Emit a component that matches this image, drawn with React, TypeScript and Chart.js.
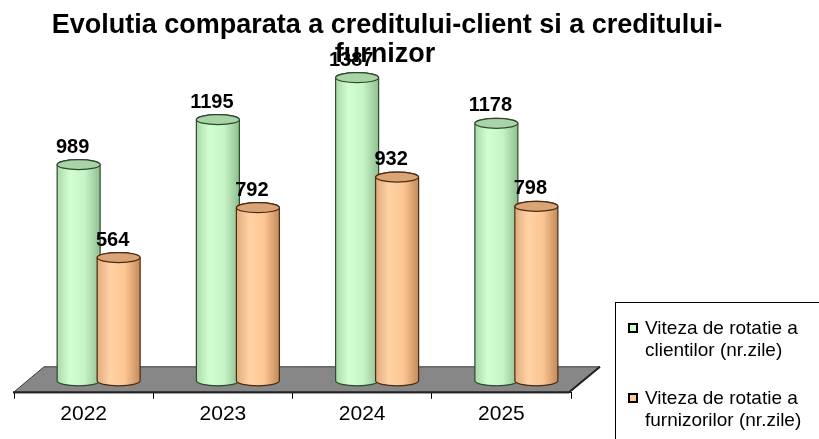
import React, { useEffect, useRef } from "react";
import { Chart, registerables } from "chart.js";

Chart.register(...registerables);

const categories = ["2022", "2023", "2024", "2025"];
const clientDays = [989, 1195, 1387, 1178];
const supplierDays = [564, 792, 932, 798];
const seriesNames = [
  ["Viteza de rotatie a", "clientilor (nr.zile)"],
  ["Viteza de rotatie a", "furnizorilor (nr.zile)"],
];
const titleLines = ["Evolutia comparata a creditului-client si a creditului-", "furnizor"];

const FONT = "'Liberation Sans', Arial, Helvetica, sans-serif";

const styles = [
  {
    body: ["#a9d9a9", "#d2ffd2", "#c6f3c6", "#8fbf8f"],
    top: "#a8d4a8",
    stroke: "#2e4a2e",
    legend: "#ccffcc",
  },
  {
    body: ["#e2ab7c", "#ffd2a4", "#fcc692", "#c48a5a"],
    top: "#d9a577",
    stroke: "#4a2a12",
    legend: "#ffcc99",
  },
];

const DX = 31; // depth offset of floor
const DY = 26;
const SHIFT_X = 15; // half depth: bars stand in the middle of the floor
const RY = 5;

function drawCylinder(ctx: CanvasRenderingContext2D, cx: number, topY: number, botY: number, w: number, st: any) {
  const rx = w / 2;
  const g = ctx.createLinearGradient(cx - rx, 0, cx + rx, 0);
  g.addColorStop(0, st.body[0]);
  g.addColorStop(0.3, st.body[1]);
  g.addColorStop(0.65, st.body[2]);
  g.addColorStop(1, st.body[3]);
  ctx.save();
  ctx.lineWidth = 1.2;
  ctx.strokeStyle = st.stroke;
  ctx.beginPath();
  ctx.moveTo(cx - rx, topY);
  ctx.lineTo(cx - rx, botY);
  ctx.ellipse(cx, botY, rx, RY, 0, Math.PI, 0, true);
  ctx.lineTo(cx + rx, topY);
  ctx.ellipse(cx, topY, rx, RY, 0, 0, Math.PI, true);
  ctx.closePath();
  ctx.fillStyle = g;
  ctx.fill();
  ctx.stroke();
  ctx.beginPath();
  ctx.ellipse(cx, topY, rx, RY, 0, 0, Math.PI * 2);
  ctx.fillStyle = st.top;
  ctx.fill();
  ctx.stroke();
  ctx.restore();
}

const cylinderPlugin = {
  id: "cylinders",
  beforeDatasetsDraw(chart: any) {
    const { ctx, chartArea } = chart;
    const b = chartArea.bottom;
    const l = chartArea.left - 1;
    const r = chartArea.right - 2;
    ctx.save();
    ctx.beginPath();
    ctx.moveTo(l, b);
    ctx.lineTo(r, b);
    ctx.lineTo(r + DX, b - DY);
    ctx.lineTo(l + DX, b - DY);
    ctx.closePath();
    ctx.fillStyle = "#878787";
    ctx.fill();
    ctx.strokeStyle = "#3a3a3a";
    ctx.lineWidth = 1;
    ctx.stroke();
    ctx.beginPath();
    ctx.moveTo(l, b - 0.5);
    ctx.lineTo(r, b - 0.5);
    ctx.lineTo(r + DX, b - DY);
    ctx.strokeStyle = "#222";
    ctx.lineWidth = 2;
    ctx.stroke();
    ctx.restore();
    return false;
  },
  afterDraw(chart: any) {
    const { ctx } = chart;
    chart.data.datasets.forEach((ds: any, di: number) => {
      const meta = chart.getDatasetMeta(di);
      meta.data.forEach((bar: any, i: number) => {
        const cx = bar.x + SHIFT_X;
        drawCylinder(ctx, cx, bar.y, bar.base, bar.width, styles[di]);
      });
    });
    // value labels
    ctx.save();
    ctx.fillStyle = "#000";
    ctx.font = `bold 20px ${FONT}`;
    ctx.textAlign = "center";
    ctx.textBaseline = "alphabetic";
    chart.data.datasets.forEach((ds: any, di: number) => {
      const meta = chart.getDatasetMeta(di);
      meta.data.forEach((bar: any, i: number) => {
        ctx.fillText(String(ds.data[i]), bar.x + SHIFT_X - 6, bar.y - 12);
      });
    });
    ctx.restore();

    // title
    ctx.save();
    ctx.fillStyle = "#000";
    ctx.font = `bold 27px ${FONT}`;
    ctx.textAlign = "center";
    ctx.textBaseline = "alphabetic";
    ctx.fillText(titleLines[0], 387, 33);
    ctx.fillText(titleLines[1], 385, 62);
    ctx.restore();

    // legend
    ctx.save();
    ctx.strokeStyle = "#000";
    ctx.lineWidth = 1;
    ctx.strokeRect(615.5, 302.5, 260, 200);
    ctx.font = `19px ${FONT}`;
    ctx.textAlign = "left";
    ctx.textBaseline = "alphabetic";
    chart.data.datasets.forEach((ds: any, di: number) => {
      const y0 = 334 + di * 70;
      ctx.fillStyle = styles[di].legend;
      ctx.fillRect(629, y0 - 10, 8, 8);
      ctx.strokeStyle = "#000";
      ctx.lineWidth = 2;
      ctx.strokeRect(629, y0 - 10, 8, 8);
      ctx.fillStyle = "#000";
      const lines = seriesNames[di];
      lines.forEach((t, li) => ctx.fillText(t, 645, y0 + li * 22));
    });
    ctx.restore();
  },
};

export default function App() {
  const ref = useRef<HTMLCanvasElement | null>(null);
  useEffect(() => {
    document.body.style.margin = "0";
    const canvas = ref.current!;
    const chart = new Chart(canvas, {
      type: "bar",
      data: {
        labels: categories,
        datasets: [
          { label: seriesNames[0].join(" "), data: clientDays, backgroundColor: styles[0].legend },
          { label: seriesNames[1].join(" "), data: supplierDays, backgroundColor: styles[1].legend },
        ],
      },
      options: {
        animation: false,
        responsive: false,
        devicePixelRatio: 1,
        layout: { padding: { left: 14, right: 248, top: 53, bottom: 9 } },
        datasets: { bar: { categoryPercentage: 0.5745, barPercentage: 1.075 } },
        plugins: { legend: { display: false }, title: { display: false }, tooltip: { enabled: false } },
        scales: {
          x: {
            grid: { drawOnChartArea: false, drawTicks: true, tickLength: 6, color: "#000" },
            border: { display: true, color: "#000", width: 1 },
            ticks: { color: "#000", font: { family: FONT, size: 21 }, padding: 3 },
          },
          y: { display: false, min: -55, max: 1500 },
        },
      },
      plugins: [cylinderPlugin],
    });
    return () => chart.destroy();
  }, []);
  return <canvas ref={ref} width={819} height={439} style={{ display: "block" }} />;
}
